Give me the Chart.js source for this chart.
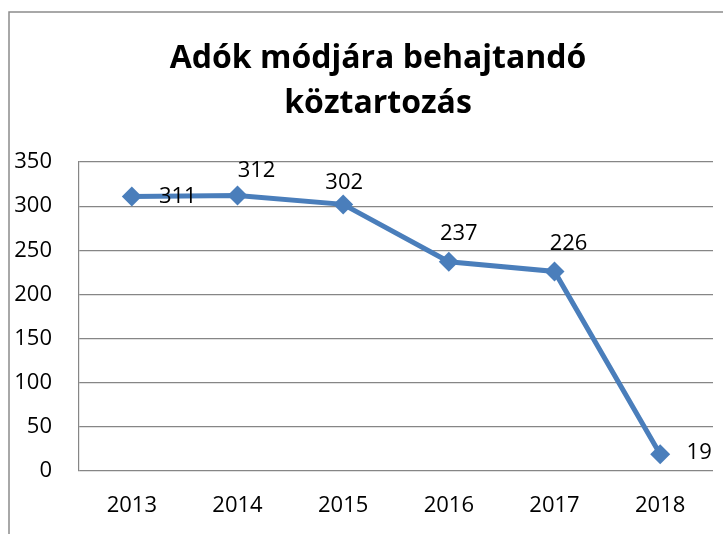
<!DOCTYPE html>
<html>
<head>
<meta charset="utf-8">
<script src="https://cdn.jsdelivr.net/npm/chart.js@4.4.1/dist/chart.umd.min.js"></script>
<style>
  body { margin: 0; background: #fff; }
  canvas { display: block; }
</style>
</head>
<body>
<canvas id="chart" width="723" height="534"></canvas>
<script>
// data
const years = ["2013", "2014", "2015", "2016", "2017", "2018"];
const debt = [311, 312, 302, 237, 226, 19];
const titleLines = ["Adók módjára behajtandó", "köztartozás"];

// where each value label sits relative to its marker (px)
const labelOffsets = [[46, 0], [19, -25], [1, -22], [10, -28], [14, -28], [39, -1]];

const FONT = "'Open Sans', sans-serif";
const blue = "#4A7EBB";
const gray = "#868686";

// outer frame + title
const framePlugin = {
  id: "frame",
  beforeDraw(chart) {
    const ctx = chart.ctx;
    ctx.save();
    ctx.strokeStyle = "#8c8c8c";
    ctx.lineWidth = 1.5;
    ctx.beginPath();
    ctx.moveTo(9, 534);
    ctx.lineTo(9, 12);
    ctx.lineTo(723, 12);
    ctx.stroke();

    ctx.fillStyle = "#000";
    ctx.font = "bold 32px " + FONT;
    ctx.textAlign = "center";
    ctx.textBaseline = "alphabetic";
    ctx.fillText(titleLines[0], 378, 68);
    ctx.fillText(titleLines[1], 378, 113);
    ctx.restore();
  },
};

// value labels
const labelPlugin = {
  id: "valueLabels",
  afterDatasetsDraw(chart) {
    const ctx = chart.ctx;
    const meta = chart.getDatasetMeta(0);
    ctx.save();
    ctx.fillStyle = "#000";
    ctx.font = "22px " + FONT;
    ctx.textAlign = "center";
    ctx.textBaseline = "middle";
    meta.data.forEach((pt, i) => {
      const [dx, dy] = labelOffsets[i];
      ctx.fillText(String(debt[i]), pt.x + dx, pt.y + dy);
    });
    ctx.restore();
  },
};

new Chart(document.getElementById("chart"), {
  type: "line",
  data: {
    labels: years,
    datasets: [
      {
        data: debt,
        borderColor: blue,
        backgroundColor: blue,
        borderWidth: 5,
        pointStyle: "rectRot",
        pointRadius: 10,
        pointHoverRadius: 10,
        pointBorderWidth: 0,
        tension: 0,
      },
    ],
  },
  options: {
    responsive: false,
    animation: false,
    layout: {
      padding: { top: 162, left: 0, right: 4, bottom: 0 },
    },
    plugins: {
      legend: { display: false },
      tooltip: { enabled: false },
    },
    scales: {
      x: {
        offset: true,
        grid: { display: false, drawTicks: false },
        border: { display: false },
        ticks: {
          color: "#000",
          font: { family: FONT, size: 22 },
          padding: 22,
        },
        afterFit(scale) {
          scale.height = 63;
        },
      },
      y: {
        min: 0,
        max: 350,
        grid: { color: gray, lineWidth: 1.2, drawTicks: false },
        border: { display: true, color: gray, width: 1.2 },
        ticks: {
          stepSize: 50,
          color: "#000",
          font: { family: FONT, size: 22 },
          padding: 27,
        },
        afterFit(scale) {
          scale.width = 79;
        },
      },
    },
  },
  plugins: [framePlugin, labelPlugin],
});
</script>
</body>
</html>
